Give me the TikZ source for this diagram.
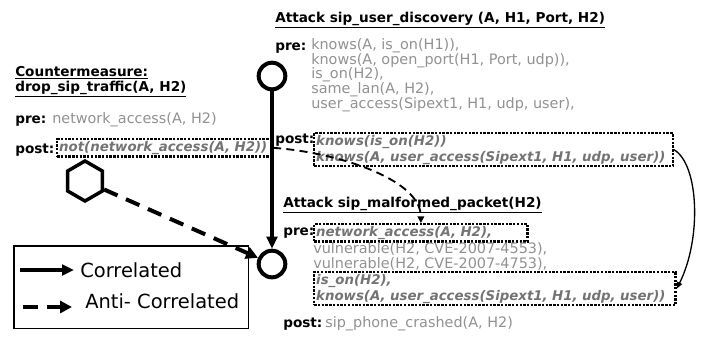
\documentclass[tikz,border=0pt]{standalone}
\usepackage{fontspec}
\setmainfont{DejaVu Sans}
\usepackage{tikz}
\usetikzlibrary{positioning, shapes.geometric, arrows.meta}
\definecolor{condgray}{RGB}{145,145,145}
\definecolor{factgray}{RGB}{115,115,115}

\begin{document}
\begin{tikzpicture}[x=0.75pt, y=-0.75pt,
   head/.style={anchor=base west, inner sep=0pt, font=\fontsize{10.2}{12}\selectfont\bfseries},
   cond/.style={anchor=base west, inner sep=0pt, align=left, text=condgray, font=\fontsize{10.8}{10.9}\selectfont},
   fact/.style={draw, densely dotted, line width=1.8pt, anchor=north west, inner sep=1.5pt, align=left,
      text=factgray, font=\fontsize{10}{11.8}\selectfont\bfseries\itshape},
   attack/.style={circle, draw, line width=3pt, minimum size=20pt, inner sep=0pt},
   counter/.style={regular polygon, regular polygon sides=6, shape border rotate=30, draw,
      line width=2.6pt, minimum size=30pt, inner sep=0pt},
   corr/.style={line width=2.4pt, -{Triangle[length=9pt,width=8pt]}},
   anticorr/.style={line width=3pt, dash pattern=on 11pt off 7pt, -{Triangle[length=9pt,width=9pt]}},
   dep/.style={line width=1.4pt, dash pattern=on 6pt off 4pt, -{Triangle[length=5pt,width=5pt]}},
   flow/.style={line width=1pt, -{Triangle[length=5pt,width=4pt]}},
   key/.style={anchor=base west, inner sep=0pt, font=\fontsize{14.6}{16}\selectfont}]
\useasboundingbox (0,0) rectangle (704,337);

% attack graph nodes
\node[attack] (ud) at (272,76) {};
\node[attack] (mp) at (272,264) {};
\node[counter] (cm) at (85,181) {};

% sip user discovery (multi-line texts sit on their last line)
\node[head] (udtitle) at (275,22) {\underline{Attack sip\_user\_discovery (A, H1, Port, H2)}};
\node[head] (udpre) at (275,50) {pre:};
\node[cond] (udconds) at (311,108) {knows(A, is\_on(H1)),\\knows(A, open\_port(H1, Port, udp)),\\is\_on(H2),\\same\_lan(A, H2),\\user\_access(Sipext1, H1, udp, user),};
\node[head] (udpost) at (275,143) {post:};
\node[fact, text width=266pt] (udfacts) at (313,132) {knows(is\_on(H2))\\knows(A, user\_access(Sipext1, H1, udp, user))};

% sip malformed packet
\node[head] (mptitle) at (283,207) {\underline{Attack sip\_malformed\_packet(H2)}};
\node[head] (mppre) at (283,235) {pre:};
\node[fact, text width=157pt] (mpnet) at (313,223) {network\_access(A, H2),};
\node[cond] (mpvuln) at (313,268) {vulnerable(H2, CVE-2007-4553),\\vulnerable(H2, CVE-2007-4753),};
\node[fact, text width=268pt] (mpknown) at (313,271) {is\_on(H2),\\knows(A, user\_access(Sipext1, H1, udp, user))};
\node[head] (mppost) at (283,327) {post:};
\node[cond] (mpcrash) at (325,327) {sip\_phone\_crashed(A, H2)};

% countermeasure
\node[head] (cmtitle) at (15,76) {\underline{Countermeasure:}};
\node[head] (cmname) at (15,91) {\underline{drop\_sip\_traffic(A, H2)}};
\node[head] (cmpre) at (15,123) {pre:};
\node[cond] (cmcond) at (52,123) {network\_access(A, H2)};
\node[head] (cmpost) at (15,153) {post:};
\node[fact, text width=158pt] (cmnot) at (56,138) {not(network\_access(A, H2))};

% connectors
\draw[corr] (ud) -- (mp);
\draw[anticorr] (cm) -- (mp);
\draw[dep] (cmnot.east) .. controls +(60,4) and +(0,-45) .. (mpnet.north);
\draw[flow] (udfacts.east) .. controls +(25,15) and +(25,-50) .. (mpknown.east);

% legend
\node[draw, line width=1.3pt, anchor=north west, minimum width=176pt, minimum height=62pt, inner sep=0pt] (legend) at (13,245) {};
\coordinate (corrA) at (20,270);
\coordinate (corrB) at (74,270);
\coordinate (antiA) at (23,307);
\coordinate (antiB) at (72,307);
\draw[corr] (corrA) -- (corrB);
\draw[anticorr] (antiA) -- (antiB);
\node[key] (keycorr) at (80,277) {Correlated};
\node[key] (keyanti) at (85,308) {Anti- Correlated};
\end{tikzpicture}
\end{document}
